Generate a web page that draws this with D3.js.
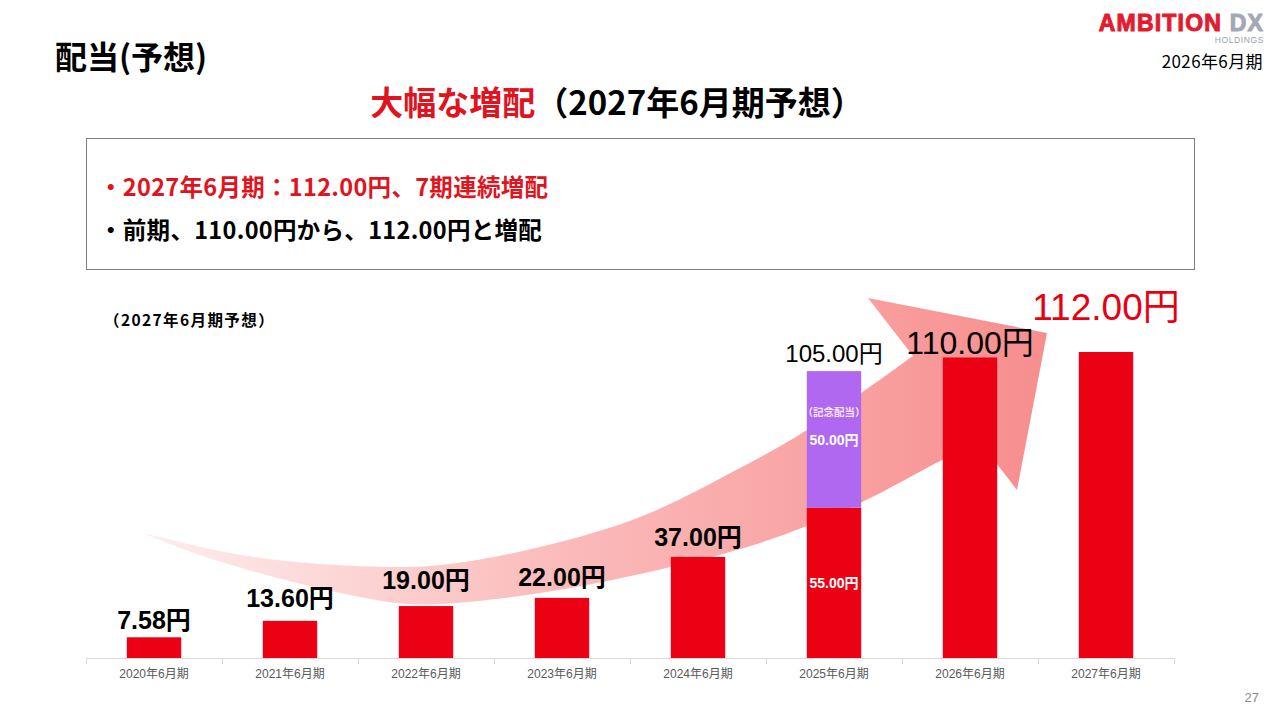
<!DOCTYPE html>
<html lang="ja">
<head>
<meta charset="utf-8">
<title>配当(予想)</title>
<script src="https://cdn.jsdelivr.net/npm/d3@7"></script>
<style>
  html, body { margin: 0; padding: 0; background: #fff; }
  svg { display: block; }
</style>
</head>
<body>
<div id="chart"></div>
<script>
"use strict";
// chart values
const categories = ["2020年6月期", "2021年6月期", "2022年6月期", "2023年6月期",
                    "2024年6月期", "2025年6月期", "2026年6月期", "2027年6月期"];
const ordinaryDividend = [7.58, 13.60, 19.00, 22.00, 37.00, 55.00, 110.00, 112.00];
const commemorativeDividend = [0, 0, 0, 0, 0, 50.00, 0, 0];
const bulletLines = ["・2027年6月期：112.00円、7期連続増配", "・前期、110.00円から、112.00円と増配"];

// label look per bar (kept apart from the values)
const labelStyles = [
  { size: 25, weight: 700, color: "#000", gap: 8 },
  { size: 25, weight: 700, color: "#000", gap: 14 },
  { size: 25, weight: 700, color: "#000", gap: 17 },
  { size: 25, weight: 700, color: "#000", gap: 12 },
  { size: 25, weight: 700, color: "#000", gap: 11 },
  { size: 24, weight: 400, color: "#000", gap: 9 },
  { size: 32, weight: 400, color: "#000", gap: 3 },
  { size: 37, weight: 400, color: "#e60012", gap: 32 }
];

const W = 1280, H = 720;
const RED = "#eb0014", PURPLE = "#af68ef";
const latin = "'Liberation Sans', Arial, 'Noto Sans CJK JP', sans-serif";
const cjk = "'Noto Sans CJK JP', 'Liberation Sans', sans-serif";

function drawSlide(containerId = "chart") {
  const svg = d3.select(`#${containerId}`)
    .append("svg")
    .attr("width", W)
    .attr("height", H);

  // ---- header ----
  svg.append("text")
    .attr("x", 55).attr("y", 69)
    .attr("font-family", cjk).attr("font-size", 32).attr("font-weight", 700)
    .text("配当(予想)");

  const logo = svg.append("text")
    .attr("x", 1264).attr("y", 31)
    .attr("text-anchor", "end")
    .attr("font-family", latin).attr("font-size", 23).attr("font-weight", 700)
    .attr("letter-spacing", 1.2)
    .attr("stroke-width", 1);
  logo.append("tspan").attr("fill", "#e31b2f").attr("stroke", "#e31b2f").text("AMBITION ");
  logo.append("tspan").attr("fill", "#a3a9b3").attr("stroke", "#a3a9b3").text("DX");

  svg.append("text")
    .attr("x", 1264).attr("y", 43)
    .attr("text-anchor", "end")
    .attr("font-family", latin).attr("font-size", 8.5)
    .attr("letter-spacing", 0.6)
    .attr("fill", "#9aa0aa")
    .text("HOLDINGS");

  svg.append("text")
    .attr("x", 1263).attr("y", 68)
    .attr("text-anchor", "end")
    .attr("font-family", cjk).attr("font-size", 17)
    .attr("letter-spacing", 0.4)
    .attr("fill", "#000")
    .text("2026年6月期");

  const title = svg.append("text")
    .attr("x", 617).attr("y", 115)
    .attr("text-anchor", "middle")
    .attr("font-family", cjk).attr("font-size", 33).attr("font-weight", 700);
  title.append("tspan").attr("fill", "#e0141e").text("大幅な増配");
  title.append("tspan").attr("fill", "#000").text("（2027年6月期予想）");

  // ---- bullet box ----
  svg.append("rect")
    .attr("x", 86.5).attr("y", 138.5)
    .attr("width", 1108).attr("height", 131)
    .attr("fill", "none").attr("stroke", "#7f7f7f").attr("stroke-width", 1);

  svg.selectAll("text.bullet")
    .data(bulletLines)
    .enter()
    .append("text")
    .attr("class", "bullet")
    .attr("x", 99)
    .attr("y", (d, i) => 196 + i * 43)
    .attr("font-family", cjk).attr("font-size", 23.5).attr("font-weight", 700)
    .attr("letter-spacing", 0.3)
    .attr("fill", (d, i) => i === 0 ? "#e0141e" : "#000")
    .text(d => d);

  svg.append("text")
    .attr("x", 104).attr("y", 326)
    .attr("font-family", cjk).attr("font-size", 15.5).attr("font-weight", 700)
    .attr("letter-spacing", 1.4)
    .text("（2027年6月期予想）");

  // ---- scales ----
  const x = d3.scaleBand()
    .domain(categories)
    .range([86, 1174])
    .paddingInner(0.6)
    .paddingOuter(0.3);
  const y = d3.scaleLinear()
    .domain([0, 112])
    .range([658, 352]);

  // ---- decorative curved arrow behind the bars ----
  const defs = svg.append("defs");
  const grad = defs.append("linearGradient")
    .attr("id", "arrowGrad")
    .attr("gradientUnits", "userSpaceOnUse")
    .attr("x1", 143).attr("y1", 0).attr("x2", 1047).attr("y2", 0);
  grad.append("stop").attr("offset", 0).attr("stop-color", "#feeeee");
  grad.append("stop").attr("offset", 0.45).attr("stop-color", "#fbbcbc");
  grad.append("stop").attr("offset", 1).attr("stop-color", "#f78e8e");

  const edge = d3.line().curve(d3.curveCatmullRom.alpha(0.5));
  const upperEdge = [[143, 533], [230, 553], [297, 562], [397, 567], [450, 564], [540, 547],
                     [640, 517], [740, 468], [807, 430], [913, 356]];
  const head = [[868, 298], [1047, 333], [1017, 490], [980, 442]];
  const lowerEdge = [[980, 442], [940, 461], [860, 503], [760, 543], [640, 574], [540, 593],
                     [440, 604], [397, 603], [297, 583], [197, 554], [143, 533]];
  const arrowPath = edge(upperEdge)
    + head.map(p => `L${p[0]},${p[1]}`).join("")
    + edge(lowerEdge).replace(/^M/, "L") + "Z";
  svg.append("path")
    .attr("d", arrowPath)
    .attr("fill", "url(#arrowGrad)");

  // ---- axis ----
  const axisG = svg.append("g");
  axisG.append("line")
    .attr("x1", x.range()[0]).attr("x2", x.range()[1])
    .attr("y1", y(0) + 0.5).attr("y2", y(0) + 0.5)
    .attr("stroke", "#d9d9d9").attr("stroke-width", 1.2);
  axisG.selectAll("line.tick")
    .data(d3.range(categories.length + 1))
    .enter()
    .append("line")
    .attr("class", "tick")
    .attr("x1", i => x.range()[0] + i * x.step() + 0.5)
    .attr("x2", i => x.range()[0] + i * x.step() + 0.5)
    .attr("y1", y(0)).attr("y2", y(0) + 6)
    .attr("stroke", "#d9d9d9");
  axisG.selectAll("text.cat")
    .data(categories)
    .enter()
    .append("text")
    .attr("class", "cat")
    .attr("x", d => x(d) + x.bandwidth() / 2)
    .attr("y", y(0) + 20)
    .attr("text-anchor", "middle")
    .attr("font-family", latin).attr("font-size", 12)
    .attr("fill", "#595959")
    .text(d => d);

  // ---- bars ----
  svg.selectAll("rect.ordinary")
    .data(ordinaryDividend)
    .enter()
    .append("rect")
    .attr("class", "ordinary")
    .attr("x", (d, i) => x(categories[i]))
    .attr("y", d => y(d))
    .attr("width", x.bandwidth())
    .attr("height", d => y(0) - y(d))
    .attr("fill", RED);

  const stacked = commemorativeDividend
    .map((v, i) => ({ v, i }))
    .filter(d => d.v > 0);
  svg.selectAll("rect.commemorative")
    .data(stacked)
    .enter()
    .append("rect")
    .attr("class", "commemorative")
    .attr("x", d => x(categories[d.i]))
    .attr("y", d => y(d.v + ordinaryDividend[d.i]))
    .attr("width", x.bandwidth())
    .attr("height", d => y(0) - y(d.v))
    .attr("fill", PURPLE);

  // ---- labels ----
  const fmt = d3.format(".2f");
  const totals = ordinaryDividend.map((v, i) => v + commemorativeDividend[i]);
  svg.selectAll("text.total")
    .data(totals)
    .enter()
    .append("text")
    .attr("class", "total")
    .attr("x", (d, i) => x(categories[i]) + x.bandwidth() / 2)
    .attr("y", (d, i) => y(d) - labelStyles[i].gap)
    .attr("text-anchor", "middle")
    .attr("font-family", latin)
    .attr("font-size", (d, i) => labelStyles[i].size)
    .attr("font-weight", (d, i) => labelStyles[i].weight)
    .attr("fill", (d, i) => labelStyles[i].color)
    .text(d => fmt(d) + "円");

  // inner labels of the split bar
  stacked.forEach(d => {
    const cx = x(categories[d.i]) + x.bandwidth() / 2;
    const base = ordinaryDividend[d.i];
    svg.append("text")
      .attr("x", cx).attr("y", y(base + d.v) + 45)
      .attr("text-anchor", "middle")
      .attr("font-family", cjk).attr("font-size", 10.5).attr("font-weight", 700)
      .attr("fill", "#f4e6ff")
      .text("（記念配当）");
    svg.append("text")
      .attr("x", cx).attr("y", y(base + d.v) + 74)
      .attr("text-anchor", "middle")
      .attr("font-family", latin).attr("font-size", 14).attr("font-weight", 700)
      .attr("fill", "#fff")
      .text(fmt(d.v) + "円");
    svg.append("text")
      .attr("x", cx).attr("y", y(base) + 80)
      .attr("text-anchor", "middle")
      .attr("font-family", latin).attr("font-size", 14).attr("font-weight", 700)
      .attr("fill", "#fff")
      .text(fmt(base) + "円");
  });

  // page number
  svg.append("text")
    .attr("x", 1259).attr("y", 702)
    .attr("text-anchor", "end")
    .attr("font-family", latin).attr("font-size", 13)
    .attr("fill", "#8c8c8c")
    .text("27");
}

document.addEventListener("DOMContentLoaded", () => {
  drawSlide();
});
</script>
</body>
</html>
